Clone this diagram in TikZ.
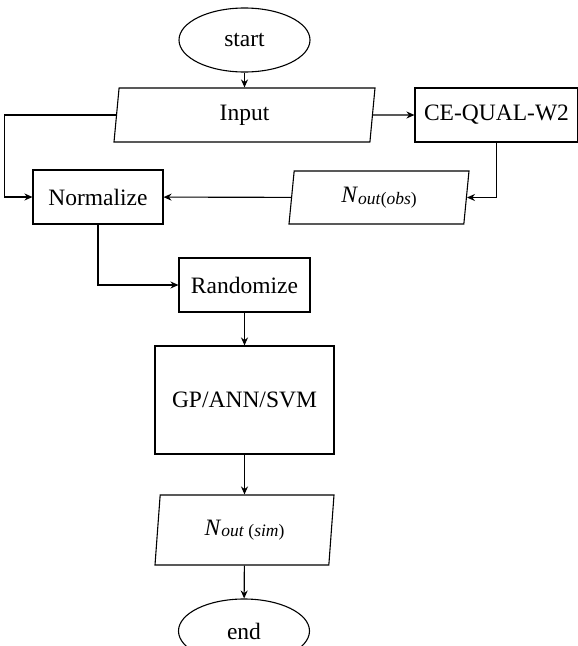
\documentclass[tikz,border=0pt]{standalone}
\usepackage{fontspec}
\setmainfont{Liberation Serif}
\usetikzlibrary{shapes.geometric,arrows.meta}
\tikzset{
  box/.style={draw,rectangle,inner sep=0pt,minimum height=54pt},
  iobox/.style={draw,trapezium,trapezium left angle=76,trapezium right angle=104,
    trapezium stretches body,inner sep=0pt,minimum height=54pt},
  term/.style={draw,ellipse,inner sep=0pt,minimum width=131pt,minimum height=64pt},
}
\newcommand{\nout}[1]{\textit{N}\raisebox{-0.15ex}{\fontsize{17.5}{20}\selectfont\textit{out}#1}}
\begin{document}
\begin{tikzpicture}[x=1pt,y=-1pt,>={Stealth[length=8pt,width=7pt]},line width=1.1pt,
    font=\fontsize{23.5}{28}\selectfont]
	\useasboundingbox (0,0) rectangle (578,646);
	\node[term] (start) at (244.5,40) {start};
	\node[iobox,minimum width=261pt] (in) at (244.5,115) {Input};
	\node[box,minimum width=163pt] (ce) at (496.5,115) {CE-QUAL-W2};
	\node[box,minimum width=130pt] (norm) at (98,197) {Normalize};
	\node[iobox,minimum width=180pt,minimum height=53pt] (obs) at (379,197.5) {\nout{(\textit{obs})}};
	\node[box,minimum width=131pt] (rand) at (244.5,285) {Randomize};
	\node[box,minimum width=179pt,minimum height=108pt] (gp) at (244.5,400) {GP/ANN/SVM};
	\node[iobox,minimum width=179pt,minimum height=70pt] (sim) at (244.5,530) {\nout{ (\textit{sim})}};
	\node[term] (stop) at (244,631) {end};
	\foreach \a/\b in {start/in,in/ce,obs/norm,rand/gp,gp/sim,sim/stop}{\draw[->] (\a) -- (\b);}
	\draw[->] (in.west) -- ++(-111.5,0) |- (norm);
	\draw[->] (ce) |- (obs);
	\draw[->] (norm) |- (rand);
\end{tikzpicture}
\end{document}
